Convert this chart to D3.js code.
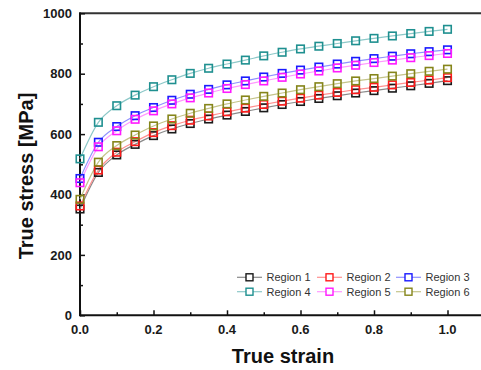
<!DOCTYPE html>
<html>
<head>
<meta charset="utf-8">
<script src="https://cdn.jsdelivr.net/npm/d3@7"></script>
<style>
  html, body { margin: 0; padding: 0; background: #fff; }
  svg { display: block; font-family: "Liberation Sans", Arial, sans-serif; }
</style>
</head>
<body>
<svg id="chart" width="481" height="370"></svg>
<script>
// True strain sampling points
const strain = [0, 0.05, 0.1, 0.15, 0.2, 0.25, 0.3, 0.35, 0.4, 0.45, 0.5,
                0.55, 0.6, 0.65, 0.7, 0.75, 0.8, 0.85, 0.9, 0.95, 1.0];

// True stress [MPa] for each region
const region1 = [352, 473, 531, 566, 595, 617, 635, 650, 663, 675, 687, 698, 708, 718, 727, 736, 744, 752, 760, 768, 777];
const region2 = [362, 481, 540, 575, 605, 628, 646, 660, 674, 686, 698, 709, 719, 729, 738, 747, 755, 763, 771, 779, 787];
const region3 = [453, 573, 625, 661, 688, 712, 732, 748, 763, 776, 789, 801, 812, 822, 832, 841, 850, 858, 866, 873, 879];
const region4 = [518, 639, 694, 729, 757, 780, 801, 818, 832, 845, 859, 871, 882, 891, 900, 909, 917, 925, 933, 940, 947];
const region5 = [439, 558, 611, 649, 677, 700, 720, 736, 751, 764, 776, 788, 799, 809, 819, 828, 837, 845, 853, 860, 867];
const region6 = [384, 507, 562, 597, 627, 650, 669, 685, 700, 713, 725, 736, 747, 757, 767, 776, 784, 792, 800, 808, 815];

const seriesNames = ["Region 1", "Region 2", "Region 3", "Region 4", "Region 5", "Region 6"];
const seriesValues = [region1, region2, region3, region4, region5, region6];
const markerColors = ["#1a1a1a", "#ff1a1a", "#1a1aff", "#1f9090", "#ff1aff", "#85851a"];
const lineColors   = ["#8a8a8a", "#ff9090", "#9090ff", "#8cc8c8", "#ff99ff", "#c4c48a"];

const xTicks = [0, 0.2, 0.4, 0.6, 0.8, 1.0];
const yTicks = [0, 200, 400, 600, 800, 1000];

const svg = d3.select("#chart");

const x = d3.scaleLinear().domain([0, 1]).range([80, 447.5]);
const y = d3.scaleLinear().domain([0, 1000]).range([315.3, 13.3]);

const plotRight = 495;

// Frame: left and bottom axes plus top border
const axisG = svg.append("g");
axisG.append("line")
  .attr("x1", x(0)).attr("x2", plotRight)
  .attr("y1", y(0)).attr("y2", y(0))
  .attr("stroke", "#111").attr("stroke-width", 2);
axisG.append("line")
  .attr("x1", x(0)).attr("x2", x(0))
  .attr("y1", y(0) + 1).attr("y2", y(1000) - 1)
  .attr("stroke", "#111").attr("stroke-width", 2);
axisG.append("line")
  .attr("x1", x(0)).attr("x2", plotRight)
  .attr("y1", y(1000)).attr("y2", y(1000))
  .attr("stroke", "#333").attr("stroke-width", 2);

// X axis ticks (inward) and labels
const xAxis = d3.axisBottom(x)
  .tickValues(d3.range(0, 1.0001, 0.1))
  .tickSizeInner(0).tickSizeOuter(0)
  .tickFormat("");
const xAxisG = svg.append("g").attr("transform", `translate(0,${y(0)})`).call(xAxis);
xAxisG.select(".domain").remove();
xAxisG.selectAll(".tick line")
  .attr("y2", (d, i) => (i % 2 === 0 ? -5 : -3))
  .attr("stroke", "#111").attr("stroke-width", 1.5);

svg.append("g").selectAll("text").data(xTicks).join("text")
  .attr("x", d => x(d)).attr("y", 334)
  .attr("text-anchor", "middle")
  .attr("font-size", 13).attr("font-weight", "bold").attr("fill", "#1a1a1a")
  .text(d => d3.format(".1f")(d));

// Y axis ticks (inward) and labels
const yAxis = d3.axisLeft(y)
  .tickValues(d3.range(0, 1001, 100))
  .tickSizeInner(0).tickSizeOuter(0)
  .tickFormat("");
const yAxisG = svg.append("g").attr("transform", `translate(${x(0)},0)`).call(yAxis);
yAxisG.select(".domain").remove();
yAxisG.selectAll(".tick line")
  .attr("x2", (d, i) => (i % 2 === 0 ? 5 : 3))
  .attr("stroke", "#111").attr("stroke-width", 1.5);

svg.append("g").selectAll("text").data(yTicks).join("text")
  .attr("x", 72).attr("y", d => y(d))
  .attr("dy", "0.36em")
  .attr("text-anchor", "end")
  .attr("font-size", 13).attr("font-weight", "bold").attr("fill", "#1a1a1a")
  .text(d => d);

// Axis titles
svg.append("text")
  .attr("x", 283).attr("y", 363)
  .attr("text-anchor", "middle")
  .attr("font-size", 20).attr("font-weight", "bold").attr("fill", "#111")
  .text("True strain");

svg.append("text")
  .attr("transform", "translate(33,176) rotate(-90)")
  .attr("text-anchor", "middle")
  .attr("font-size", 20).attr("font-weight", "bold").attr("fill", "#111")
  .text("True stress [MPa]");

// Curves
const line = d3.line()
  .x((d, i) => x(strain[i]))
  .y(d => y(d))
  .curve(d3.curveMonotoneX);

const plotG = svg.append("g");
seriesValues.forEach((vals, k) => {
  plotG.append("path")
    .datum(vals)
    .attr("d", line)
    .attr("fill", "none")
    .attr("stroke", lineColors[k])
    .attr("stroke-width", 1.2);
});

// Open square markers
const ms = 7.5;
seriesValues.forEach((vals, k) => {
  plotG.append("g").selectAll("rect").data(vals).join("rect")
    .attr("x", (d, i) => x(strain[i]) - ms / 2)
    .attr("y", d => y(d) - ms / 2)
    .attr("width", ms).attr("height", ms)
    .attr("fill", "none")
    .attr("stroke", markerColors[k])
    .attr("stroke-width", 1.6);
});

// Legend (2 rows x 3 columns)
const legendCols = [237, 317, 396];
const legendRows = [277.3, 291.7];
const legendG = svg.append("g");
seriesNames.forEach((name, k) => {
  const cx = legendCols[k % 3];
  const cy = legendRows[Math.floor(k / 3)];
  const g = legendG.append("g");
  g.append("line")
    .attr("x1", cx).attr("x2", cx + 25)
    .attr("y1", cy).attr("y2", cy)
    .attr("stroke", lineColors[k]).attr("stroke-width", 1.2);
  g.append("rect")
    .attr("x", cx + 12.5 - 3.5).attr("y", cy - 3.5)
    .attr("width", 7).attr("height", 7)
    .attr("fill", "#fff")
    .attr("stroke", markerColors[k]).attr("stroke-width", 1.4);
  g.append("text")
    .attr("x", cx + 29.5).attr("y", cy)
    .attr("dy", "0.36em")
    .attr("font-size", 11).attr("fill", "#333")
    .text(name);
});
</script>
</body>
</html>
